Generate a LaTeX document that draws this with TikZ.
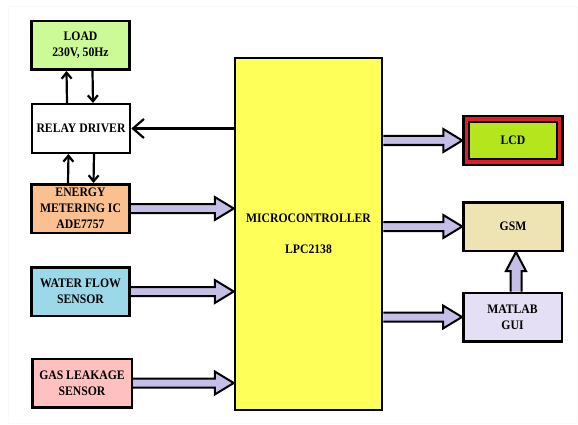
\documentclass[tikz,border=0pt]{standalone}
\usepackage{fontspec}
\setmainfont{Liberation Serif}[FakeStretch=0.9]
\usetikzlibrary{arrows.meta,calc,backgrounds}
\definecolor{loadc}{RGB}{204,250,150}
\definecolor{energyc}{RGB}{250,192,144}
\definecolor{waterc}{RGB}{155,217,234}
\definecolor{gasc}{RGB}{255,192,192}
\definecolor{mcuc}{RGB}{255,255,90}
\definecolor{lcdred}{RGB}{230,28,36}
\definecolor{lcdgreen}{RGB}{181,230,29}
\definecolor{gsmc}{RGB}{238,227,178}
\definecolor{matlabc}{RGB}{228,223,245}
\definecolor{arrowc}{RGB}{197,190,230}
\newcommand\fatH[2]{\draw[fatarr] ($(#1)+(0,-4.5)$) -- ($(#2)+(-19,-4.5)$) -- ($(#2)+(-19,-11.5)$) -- (#2) -- ($(#2)+(-19,11.5)$) -- ($(#2)+(-19,4.5)$) -- ($(#1)+(0,4.5)$);}
\newcommand\fatV[2]{\draw[fatarr] ($(#1)+(-5.5,0)$) -- ($(#2)+(-5.5,19)$) -- ($(#2)+(-10,19)$) -- (#2) -- ($(#2)+(10,19)$) -- ($(#2)+(5.5,19)$) -- ($(#1)+(5.5,0)$);}
\begin{document}
\begin{tikzpicture}[x=1pt,y=-1pt,
  font=\fontsize{13}{16}\selectfont\bfseries,
  box/.style={draw, line width=2.5pt, minimum width=98pt, minimum height=48.5pt, align=center, inner sep=1pt},
  thinarr/.style={draw, line width=2.2pt, -{Straight Barb[length=6pt,width=10pt]}},
  bigarr/.style={draw, line width=2.2pt, -{Straight Barb[length=11pt,width=19pt]}},
  fatarr/.style={draw, line width=2pt, fill=arrowc, line join=miter}]
\useasboundingbox (0,0) rectangle (578,425);
\draw[gray!5, line width=1pt] (8,7) rectangle (577,423);

\node[box, fill=loadc] (load) at (80.5,45.5) {LOAD\\230V, 50Hz};
\node[box, fill=white] (relay) at (81,128.5) {RELAY DRIVER};
\node[box, fill=energyc] (energy) at (80.5,208.5) {ENERGY\\METERING IC\\ADE7757};
\node[box, fill=waterc] (water) at (80.5,291.5) {WATER FLOW\\SENSOR};
\node[box, fill=gasc, minimum width=99.5pt] (gas) at (82,383) {GAS LEAKAGE\\SENSOR};
\node[box, fill=mcuc, minimum width=147pt, minimum height=352pt] (mcu) at (308.5,234) {MICROCONTROLLER\\[15pt]LPC2138};
\node[box, fill=lcdred, minimum width=99pt] (lcd) at (513,140.5) {};
\node[draw, line width=2pt, fill=lcdgreen, minimum width=88pt, minimum height=37pt, inner sep=1pt] (lcdin) at (lcd.center) {LCD};
\node[box, fill=gsmc, minimum width=99pt] (gsm) at (513,226.5) {GSM};
\node[box, fill=matlabc, minimum width=98.5pt] (matlab) at (512.5,317) {MATLAB\\GUI};

\begin{scope}[on background layer]
\draw[thinarr] ([xshift=-14pt]relay.north) -- ([xshift=-14pt]load.south);
\draw[thinarr] ([xshift=12pt]load.south) -- ([xshift=12pt]relay.north);
\draw[thinarr] ([xshift=-12.5pt]energy.north) -- ([xshift=-12.5pt]relay.south);
\draw[thinarr] ([xshift=13pt]relay.south) -- ([xshift=13pt]energy.north);
\draw[bigarr] (mcu.west |- relay.east) -- (relay.east);
\fatH{energy.east}{mcu.west |- energy.east}
\fatH{water.east}{mcu.west |- water.east}
\fatH{gas.east}{mcu.west |- gas.east}
\fatH{mcu.east |- lcd.west}{lcd.west}
\fatH{mcu.east |- gsm.west}{gsm.west}
\fatH{mcu.east |- matlab.west}{matlab.west}
\fatV{[xshift=3.5pt]matlab.north}{[xshift=3pt]gsm.south}
\end{scope}
\end{tikzpicture}
\end{document}
